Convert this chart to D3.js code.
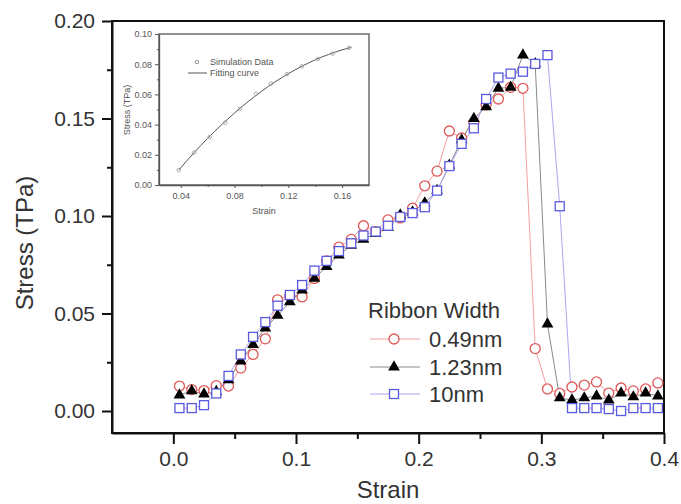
<!DOCTYPE html>
<html><head><meta charset="utf-8">
<script src="https://cdn.jsdelivr.net/npm/d3@7"></script>
<style>body{margin:0;background:#fff}svg{display:block}text{font-family:"Liberation Sans",Arial,sans-serif}</style>
</head><body><svg id="c" width="681" height="504"></svg>
<script>
// ---- data ----
const strain = [0.005,0.015,0.025,0.035,0.045,0.055,0.065,0.075,0.085,0.095,
  0.105,0.115,0.125,0.135,0.145,0.155,0.165,0.175,0.185,0.195,
  0.205,0.215,0.225,0.235,0.245,0.255,0.265,0.275,0.285,0.295,
  0.305,0.315,0.325,0.335,0.345,0.355,0.365,0.375,0.385,0.395];
const w049 = [0.0128,0.011,0.0105,0.013,0.0128,0.022,0.029,0.037,0.057,0.059,
  0.0585,0.068,0.077,0.084,0.088,0.095,0.092,0.098,0.099,0.104,
  0.1155,0.123,0.1436,0.140,0.148,0.157,0.160,0.166,0.1655,0.032,
  0.0113,0.009,0.0123,0.0133,0.0149,0.0092,0.0118,0.0103,0.0113,0.0144];
const w123 = [0.0082,0.0103,0.0087,0.010,0.016,0.0256,0.034,0.0425,0.049,0.056,
  0.062,0.068,0.074,0.080,0.085,0.088,0.091,0.094,0.1005,0.102,
  0.1067,0.113,0.126,0.139,0.150,0.156,0.1655,0.166,0.1825,0.178,
  0.0446,0.0067,0.0056,0.0067,0.0077,0.0056,0.0092,0.0072,0.0092,0.0077];
const w10 = [0.0015,0.0015,0.003,0.009,0.018,0.029,0.038,0.0456,0.054,0.0595,
  0.0646,0.072,0.077,0.082,0.086,0.090,0.092,0.095,0.0995,0.1015,
  0.1045,0.113,0.1256,0.137,0.145,0.160,0.171,0.173,0.174,0.178,
  0.1825,0.105,0.0015,0.0015,0.0015,0.001,0.0,0.0015,0.0015,0.0015];
const seriesNames = ["0.49nm","1.23nm","10nm"];
const xTicks = [0.0,0.1,0.2,0.3,0.4];
const xMinor = [0.05,0.15,0.25,0.35];
const yTicks = [0.00,0.05,0.10,0.15,0.20];
const yMinor = [0.025,0.075,0.125,0.175];
// inset data
const insetSimX = [0.0385,0.050,0.0615,0.073,0.084,0.096,0.107,0.119,0.130,0.142,0.153,0.165];
const insetSimY = [0.0099,0.0215,0.0318,0.0413,0.0505,0.0603,0.0672,0.0734,0.0786,0.0835,0.0870,0.0908];
const insetFitX = [0.0385,0.05,0.06,0.07,0.08,0.09,0.10,0.11,0.12,0.13,0.14,0.15,0.16,0.167];
const insetFitY = [0.0099,0.0215,0.0309,0.0396,0.0477,0.0552,0.0620,0.0682,0.0737,0.0786,0.0829,0.0865,0.0895,0.0912];
const insetXTicks = [0.04,0.08,0.12,0.16];
const insetXMinor = [0.06,0.10,0.14];
const insetYTicks = [0.00,0.02,0.04,0.06,0.08,0.10];
const insetYMinor = [0.01,0.03,0.05,0.07,0.09];

const svg = d3.select("#c");
const x = d3.scaleLinear().domain([-0.05,0.4]).range([112,664]);
const y = d3.scaleLinear().domain([-0.01128,0.2]).range([433,21]);

// frame
svg.append("rect").attr("x",112).attr("y",21).attr("width",552).attr("height",412)
  .attr("fill","none").attr("stroke","#111").attr("stroke-width",2);

const fmt2 = d3.format(".2f"), fmt1 = d3.format(".1f");
const gx = svg.append("g").attr("transform","translate(0,433)")
  .call(d3.axisBottom(x).tickValues(xTicks).tickFormat(fmt1).tickSize(11).tickPadding(7).tickSizeOuter(0));
svg.append("g").attr("transform","translate(0,433)")
  .call(d3.axisBottom(x).tickValues(xMinor).tickFormat("").tickSize(6).tickSizeOuter(0))
  .select(".domain").remove();
const gy = svg.append("g").attr("transform","translate(112,0)")
  .call(d3.axisLeft(y).tickValues(yTicks).tickFormat(fmt2).tickSize(10).tickPadding(7).tickSizeOuter(0));
svg.append("g").attr("transform","translate(112,0)")
  .call(d3.axisLeft(y).tickValues(yMinor).tickFormat("").tickSize(5).tickSizeOuter(0))
  .select(".domain").remove();
svg.selectAll(".tick line").attr("stroke","#111").attr("stroke-width",2);
svg.selectAll(".domain").attr("stroke","#111").attr("stroke-width",2);
svg.selectAll(".tick text").attr("font-size",21).attr("fill","#333")
  .attr("font-family","'Liberation Sans',Arial,sans-serif");

svg.append("text").attr("x",388).attr("y",498).attr("text-anchor","middle")
  .attr("font-size",24).attr("fill","#333").text("Strain");
svg.append("text").attr("transform","translate(33,243) rotate(-90)").attr("text-anchor","middle")
  .attr("font-size",24).attr("fill","#333").text("Stress (TPa)");

// series
const series = [
  {name:seriesNames[0], vals:w049, line:"#f2a0a0", col:"#e05858", shape:"circle"},
  {name:seriesNames[1], vals:w123, line:"#888888", col:"#000000", shape:"tri"},
  {name:seriesNames[2], vals:w10,  line:"#a8a8f0", col:"#5a5ae0", shape:"square"}
];
const lineGen = d3.line().x((d,i)=>x(strain[i])).y(d=>y(d));
function marker(g, shape, col){
  if(shape==="circle") g.append("circle").attr("r",5).attr("fill","#fff").attr("stroke",col).attr("stroke-width",1.3);
  else if(shape==="tri") g.append("path").attr("d",d3.symbol().type(d3.symbolTriangle).size(60)).attr("fill",col);
  else g.append("rect").attr("x",-4.5).attr("y",-4.5).attr("width",9).attr("height",9).attr("fill","#fff").attr("stroke",col).attr("stroke-width",1.3);
}
series.forEach(s=>{
  svg.append("path").datum(s.vals).attr("d",lineGen).attr("fill","none").attr("stroke",s.line).attr("stroke-width",1);
});
series.forEach(s=>{
  s.vals.forEach((v,i)=>{
    const g = svg.append("g").attr("transform",`translate(${x(strain[i])},${y(v)})`);
    marker(g,s.shape,s.col);
  });
});

// legend
svg.append("text").attr("x",368).attr("y",318).attr("font-size",22).attr("fill","#333").text("Ribbon Width");
const legY = [339,367,394];
series.forEach((s,i)=>{
  svg.append("line").attr("x1",370).attr("x2",420).attr("y1",legY[i]).attr("y2",legY[i]).attr("stroke",s.line).attr("stroke-width",1);
  const g = svg.append("g").attr("transform",`translate(394,${legY[i]})`);
  marker(g,s.shape,s.col);
  svg.append("text").attr("x",429).attr("y",legY[i]).attr("dy","0.36em").attr("font-size",22).attr("fill","#333").text(s.name);
});

// inset
const ix = d3.scaleLinear().domain([0.0238,0.18]).range([159,369]);
const iy = d3.scaleLinear().domain([0,0.1]).range([185,34]);
const ig = svg.append("g");
ig.append("rect").attr("x",159).attr("y",34).attr("width",210).attr("height",151).attr("fill","#fff").attr("stroke","#555").attr("stroke-width",1.3);
const ixa = ig.append("g").attr("transform","translate(0,185)")
  .call(d3.axisBottom(ix).tickValues(insetXTicks).tickFormat(fmt2).tickSize(3).tickPadding(5).tickSizeOuter(0));
ig.append("g").attr("transform","translate(0,185)")
  .call(d3.axisBottom(ix).tickValues(insetXMinor).tickFormat("").tickSize(2).tickSizeOuter(0)).select(".domain").remove();
const iya = ig.append("g").attr("transform","translate(159,0)")
  .call(d3.axisLeft(iy).tickValues(insetYTicks).tickFormat(fmt2).tickSize(4).tickPadding(3).tickSizeOuter(0));
ig.append("g").attr("transform","translate(159,0)")
  .call(d3.axisLeft(iy).tickValues(insetYMinor).tickFormat("").tickSize(2).tickSizeOuter(0)).select(".domain").remove();
ig.selectAll(".domain").attr("stroke","#555").attr("stroke-width",1.3);
ig.selectAll(".tick line").attr("stroke","#555").attr("stroke-width",1);
ig.selectAll(".tick text").attr("font-size",9).attr("fill","#555").attr("font-family","'Liberation Sans',Arial,sans-serif");
ig.append("text").attr("x",264).attr("y",214).attr("text-anchor","middle").attr("font-size",9).attr("fill","#555").text("Strain");
ig.append("text").attr("transform","translate(130,110) rotate(-90)").attr("text-anchor","middle").attr("font-size",9).attr("fill","#555").text("Stress (TPa)");
ig.append("path").datum(insetFitX.map((v,i)=>[v,insetFitY[i]]))
  .attr("d",d3.line().x(d=>ix(d[0])).y(d=>iy(d[1])).curve(d3.curveMonotoneX))
  .attr("fill","none").attr("stroke","#555").attr("stroke-width",1);
insetSimX.forEach((v,i)=>{
  ig.append("circle").attr("cx",ix(v)).attr("cy",iy(insetSimY[i])).attr("r",1.8).attr("fill","none").attr("stroke","#999").attr("stroke-width",0.8);
});
ig.append("circle").attr("cx",197).attr("cy",62).attr("r",1.8).attr("fill","none").attr("stroke","#777").attr("stroke-width",0.8);
ig.append("text").attr("x",210).attr("y",62).attr("dy","0.35em").attr("font-size",9).attr("fill","#555").text("Simulation Data");
ig.append("line").attr("x1",188).attr("x2",207).attr("y1",73).attr("y2",73).attr("stroke","#555").attr("stroke-width",1);
ig.append("text").attr("x",210).attr("y",73).attr("dy","0.35em").attr("font-size",9).attr("fill","#555").text("Fitting curve");
</script></body></html>
